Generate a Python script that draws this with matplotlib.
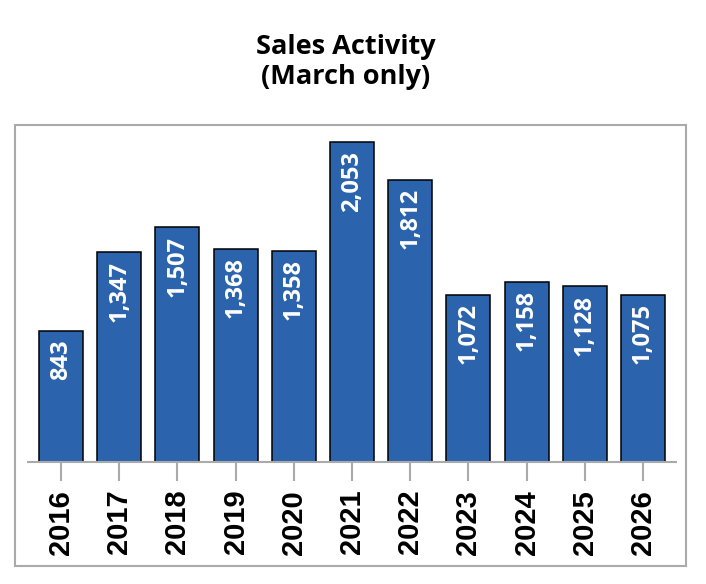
import matplotlib.pyplot as plt
from matplotlib.patches import Rectangle

# data
years = ['2016', '2017', '2018', '2019', '2020', '2021', '2022', '2023', '2024', '2025', '2026']
sales = [843, 1347, 1507, 1368, 1358, 2053, 1812, 1072, 1158, 1128, 1075]

bar_color = '#2b63ad'

fig = plt.figure(figsize=(7.06, 5.84), dpi=100)

# outer gray frame around the plot area
fig.patches.append(Rectangle((15 / 706, 1 - 566 / 584), 671 / 706, 441 / 584,
                             transform=fig.transFigure, fill=False,
                             edgecolor='#aaaaaa', linewidth=1.5))

ax = fig.add_axes([28 / 706, 1 - 462 / 584, 648 / 706, 332 / 584])
x = list(range(len(years)))
bars = ax.bar(x, sales, width=0.755, color=bar_color, edgecolor='black', linewidth=1.1)

ax.set_xlim(-0.567, 10.567)
ax.set_ylim(0, 2132)

for spine in ['top', 'right', 'left']:
    ax.spines[spine].set_visible(False)
ax.spines['bottom'].set_color('#aaaaaa')
ax.spines['bottom'].set_linewidth(1.5)
ax.set_yticks([])
ax.set_xticks(x)
ax.set_xticklabels(years, rotation=90, fontsize=21, fontweight='bold',
                   family='Liberation Sans')
ax.tick_params(axis='x', length=14, width=1.5, color='#aaaaaa', pad=6)

# value labels inside bars
for xi, v in zip(x, sales):
    ax.annotate(f'{v:,}', (xi, v), xytext=(0, -6), textcoords='offset points',
                rotation=90, ha='center', va='top', color='white',
                fontsize=17, fontweight='bold', family='Open Sans')

fig.text(346 / 706, 1 - 62 / 584, 'Sales Activity\n(March only)', ha='center', va='center',
         fontsize=19.5, fontweight='bold', family='Open Sans', linespacing=1.2)

fig.savefig('out.png', dpi=100)
